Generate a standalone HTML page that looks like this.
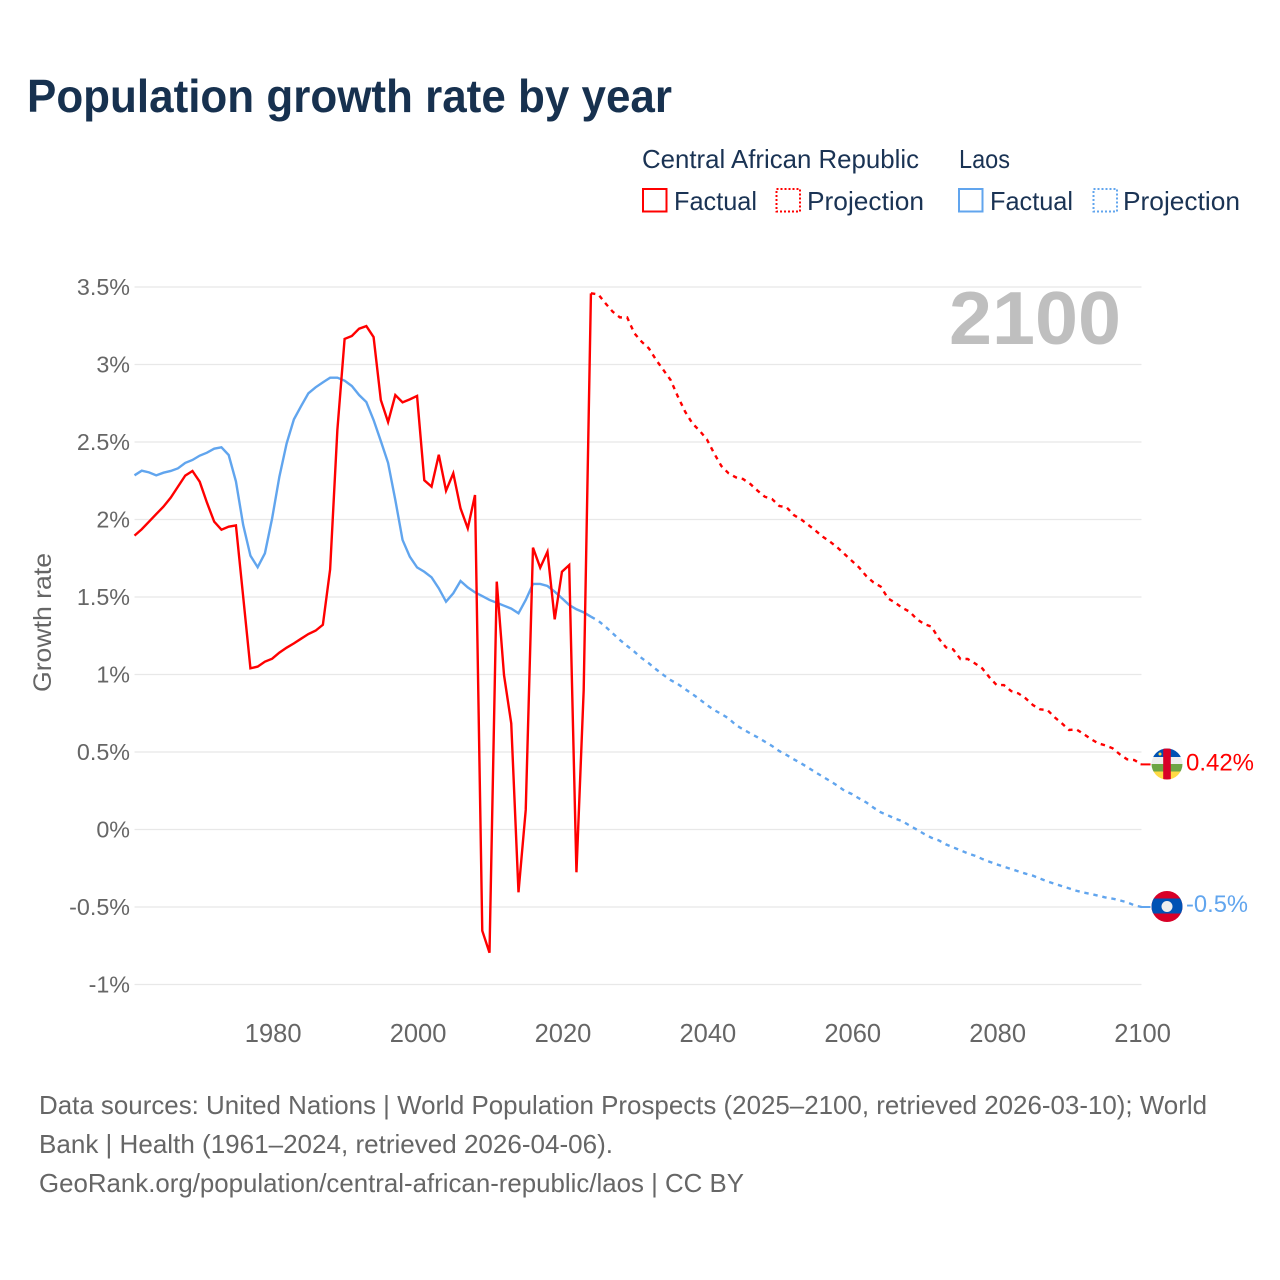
<!DOCTYPE html>
<html lang="en">
<head>
<meta charset="utf-8">
<title>Population growth rate by year</title>
<style>
  html, body { margin: 0; padding: 0; background: #fff; }
  svg { display: block; font-family: "Liberation Sans", sans-serif; }
</style>
</head>
<body>
<svg id="chart" xmlns="http://www.w3.org/2000/svg" width="1280" height="1280" viewBox="0 0 1280 1280">
  <rect x="0" y="0" width="1280" height="1280" fill="#ffffff"/>
  <text x="27" y="112" font-size="46" font-weight="700" fill="#17314f" textLength="645" lengthAdjust="spacingAndGlyphs">Population growth rate by year</text>

  <g fill="#1a3354" font-size="26">
    <text x="642" y="168" textLength="277" lengthAdjust="spacingAndGlyphs">Central African Republic</text>
    <text x="959" y="168" textLength="51" lengthAdjust="spacingAndGlyphs">Laos</text>
    <rect x="643" y="189" width="23.5" height="22.5" fill="none" stroke="#ff0000" stroke-width="2"/>
    <text x="674" y="210" textLength="83" lengthAdjust="spacingAndGlyphs">Factual</text>
    <rect x="776.5" y="189" width="23.5" height="22.5" fill="none" stroke="#ff0000" stroke-width="2" stroke-dasharray="2 2"/>
    <text x="807" y="210" textLength="117" lengthAdjust="spacingAndGlyphs">Projection</text>
    <rect x="959" y="189" width="23.5" height="22.5" fill="none" stroke="#61a5ee" stroke-width="2"/>
    <text x="990" y="210" textLength="83" lengthAdjust="spacingAndGlyphs">Factual</text>
    <rect x="1093.5" y="189" width="23.5" height="22.5" fill="none" stroke="#61a5ee" stroke-width="2" stroke-dasharray="2 2"/>
    <text x="1123" y="210" textLength="117" lengthAdjust="spacingAndGlyphs">Projection</text>
  </g>

  <g id="grid"></g>
  <text x="949" y="344" font-size="75" font-weight="700" fill="#bfbfbf" textLength="172" lengthAdjust="spacingAndGlyphs">2100</text>
  <g id="y-ticks"></g>
  <g id="x-ticks"></g>
  <text transform="translate(51,622.5) rotate(-90)" text-anchor="middle" font-size="25" fill="#666666" textLength="139" lengthAdjust="spacingAndGlyphs">Growth rate</text>
  <g id="series"></g>

  <defs>
    <clipPath id="flag-clip-car"><circle id="car-clip-circle" cx="1167" cy="764" r="15.5"/></clipPath>
    <clipPath id="flag-clip-laos"><circle id="laos-clip-circle" cx="1167" cy="906.5" r="15.5"/></clipPath>
  </defs>
  <g id="flag-car" clip-path="url(#flag-clip-car)">
    <rect x="1151" y="748" width="32" height="9" fill="#0052b4"/>
    <rect x="1151" y="757" width="32" height="7" fill="#eeeeee"/>
    <rect x="1151" y="764" width="32" height="7.5" fill="#6da544"/>
    <rect x="1151" y="771.5" width="32" height="9" fill="#ffda44"/>
    <rect x="1163.2" y="748" width="7.6" height="32" fill="#d80027"/>
    <circle cx="1160" cy="754" r="1.5" fill="#ffda44"/>
  </g>
  <g id="flag-laos" clip-path="url(#flag-clip-laos)">
    <rect x="1151" y="890" width="32" height="33" fill="#d80027"/>
    <rect x="1151" y="898.5" width="32" height="15" fill="#0052b4"/>
    <circle cx="1167" cy="906.5" r="5.5" fill="#eeeeee"/>
  </g>
  <text id="end-label-car" x="1186" y="770" font-size="24.5" fill="#ff0000" textLength="68" lengthAdjust="spacingAndGlyphs"></text>
  <text id="end-label-laos" x="1186" y="912" font-size="24.5" fill="#61a5ee" textLength="62" lengthAdjust="spacingAndGlyphs"></text>

  <g fill="#666666" font-size="26">
    <text x="39" y="1114" textLength="1168" lengthAdjust="spacingAndGlyphs">Data sources: United Nations | World Population Prospects (2025–2100, retrieved 2026-03-10); World</text>
    <text x="39" y="1153" textLength="574" lengthAdjust="spacingAndGlyphs">Bank | Health (1961–2024, retrieved 2026-04-06).</text>
    <text x="39" y="1192" textLength="705" lengthAdjust="spacingAndGlyphs">GeoRank.org/population/central-african-republic/laos | CC BY</text>
  </g>
</svg>

<script>
var SVG_NS = 'http://www.w3.org/2000/svg';

var yTickValues = [3.5, 3, 2.5, 2, 1.5, 1, 0.5, 0, -0.5, -1];
var xTickYears = [1980, 2000, 2020, 2040, 2060, 2080, 2100];
var factualFirstYear = 1961;
var projectionFirstYear = 2024;

var carFactual = [1.896,1.937,1.986,2.035,2.083,2.141,2.212,2.283,2.313,2.244,2.109,1.986,1.934,1.954,1.962,1.502,1.040,1.051,1.083,1.102,1.141,1.173,1.201,1.231,1.261,1.283,1.321,1.678,2.577,3.165,3.184,3.231,3.248,3.177,2.771,2.629,2.803,2.756,2.775,2.797,2.253,2.212,2.418,2.186,2.298,2.072,1.943,2.158,-0.653,-0.795,1.599,0.997,0.685,-0.405,0.126,1.818,1.689,1.792,1.356,1.663,1.706,-0.276,0.9,3.459];

var carProjection = [3.459,3.453,3.395,3.341,3.304,3.304,3.201,3.147,3.104,3.029,2.965,2.900,2.793,2.696,2.620,2.573,2.517,2.427,2.345,2.298,2.272,2.261,2.229,2.186,2.147,2.132,2.087,2.079,2.029,2.001,1.965,1.928,1.889,1.857,1.820,1.777,1.734,1.691,1.635,1.594,1.567,1.491,1.463,1.429,1.405,1.356,1.326,1.309,1.233,1.175,1.162,1.100,1.100,1.072,1.040,0.982,0.932,0.932,0.893,0.878,0.846,0.803,0.775,0.771,0.724,0.685,0.642,0.646,0.616,0.584,0.556,0.543,0.524,0.485,0.453,0.448,0.42];

var laosFactual = [2.285,2.315,2.304,2.285,2.302,2.313,2.330,2.365,2.384,2.412,2.431,2.457,2.466,2.416,2.246,1.965,1.767,1.692,1.782,2.008,2.277,2.491,2.646,2.732,2.814,2.853,2.885,2.915,2.915,2.896,2.861,2.803,2.758,2.642,2.506,2.365,2.126,1.868,1.76,1.691,1.663,1.627,1.556,1.470,1.524,1.603,1.562,1.530,1.506,1.481,1.463,1.444,1.425,1.395,1.481,1.584,1.584,1.571,1.534,1.492,1.448,1.421,1.401,1.373];

var laosProjection = [1.373,1.347,1.309,1.266,1.223,1.184,1.147,1.106,1.072,1.033,0.997,0.964,0.938,0.906,0.874,0.840,0.803,0.771,0.745,0.717,0.674,0.646,0.620,0.595,0.567,0.539,0.506,0.481,0.453,0.427,0.399,0.369,0.341,0.313,0.283,0.250,0.229,0.201,0.175,0.141,0.111,0.091,0.070,0.053,0.025,-0.001,-0.029,-0.053,-0.070,-0.096,-0.115,-0.134,-0.154,-0.169,-0.190,-0.208,-0.225,-0.240,-0.255,-0.270,-0.285,-0.298,-0.317,-0.335,-0.350,-0.365,-0.380,-0.395,-0.407,-0.416,-0.427,-0.438,-0.446,-0.457,-0.470,-0.489,-0.5];

function xScale(year) { return 134.5 + (year - 1961) * 7.245; }
function yScale(value) { return 829.5 - value * 155; }

var gridGroup = document.getElementById('grid');
var yTickGroup = document.getElementById('y-ticks');
var xTickGroup = document.getElementById('x-ticks');
var seriesGroup = document.getElementById('series');

yTickValues.forEach(function (v) {
  var y = yScale(v);
  var line = document.createElementNS(SVG_NS, 'line');
  
  
  line.setAttribute('x1', 134.5);
  line.setAttribute('x2', 1141.5);
  line.setAttribute('y1', y);
  line.setAttribute('y2', y);
  line.setAttribute('stroke', '#e8e8e8');
  line.setAttribute('stroke-width', '1.2');
  gridGroup.appendChild(line);

  var label = document.createElementNS(SVG_NS, 'text');
  
  
  label.setAttribute('x', 130);
  label.setAttribute('y', y + 8);
  label.setAttribute('text-anchor', 'end');
  label.setAttribute('font-size', '23.3');
  label.setAttribute('fill', '#666666');
  label.textContent = v + '%';
  yTickGroup.appendChild(label);
});

xTickYears.forEach(function (year) {
  var label = document.createElementNS(SVG_NS, 'text');
  
  
  label.setAttribute('x', xScale(year) + 1);
  label.setAttribute('y', 1042);
  label.setAttribute('text-anchor', 'middle');
  label.setAttribute('font-size', '25.5');
  label.setAttribute('fill', '#666666');
  label.textContent = year;
  xTickGroup.appendChild(label);
});

function buildPoints(values, firstYear) {
  return values.map(function (v, i) {
    return xScale(firstYear + i).toFixed(2) + ',' + yScale(v).toFixed(2);
  }).join(' ');
}

function drawLine(name, values, firstYear, color, dashed) {
  var line = document.createElementNS(SVG_NS, 'polyline');
  
  
  line.setAttribute('points', buildPoints(values, firstYear));
  line.setAttribute('fill', 'none');
  line.setAttribute('stroke', color);
  line.setAttribute('stroke-width', '2.4');
  if (dashed) { line.setAttribute('stroke-dasharray', '4.4 4.8'); }
  seriesGroup.appendChild(line);
}

function drawConnector(name, value, color) {
  var line = document.createElementNS(SVG_NS, 'line');
  
  
  line.setAttribute('x1', xScale(2100) - 1);
  line.setAttribute('x2', xScale(2100) + 9);
  line.setAttribute('y1', yScale(value));
  line.setAttribute('y2', yScale(value));
  line.setAttribute('stroke', color);
  line.setAttribute('stroke-width', '2');
  seriesGroup.appendChild(line);
}

drawLine('line-laos-factual', laosFactual, factualFirstYear, '#61a5ee', false);
drawLine('line-laos-projection', laosProjection, projectionFirstYear, '#61a5ee', true);
drawLine('line-car-factual', carFactual, factualFirstYear, '#ff0000', false);
drawLine('line-car-projection', carProjection, projectionFirstYear, '#ff0000', true);

var carEnd = carProjection[carProjection.length - 1];
var laosEnd = laosProjection[laosProjection.length - 1];
drawConnector('connector-car-flag', carEnd, '#ff0000');
drawConnector('connector-laos-flag', laosEnd, '#61a5ee');

var carLabel = document.getElementById('end-label-car');
var laosLabel = document.getElementById('end-label-laos');
carLabel.textContent = carEnd + '%';
laosLabel.textContent = laosEnd + '%';
carLabel.setAttribute('y', yScale(carEnd) + 6);
laosLabel.setAttribute('y', yScale(laosEnd) + 5);
document.getElementById('flag-car').setAttribute('transform', 'translate(0,' + (yScale(carEnd) - 764.4) + ')');
document.getElementById('flag-laos').setAttribute('transform', 'translate(0,' + (yScale(laosEnd) - 907) + ')');
</script>
</body>
</html>
